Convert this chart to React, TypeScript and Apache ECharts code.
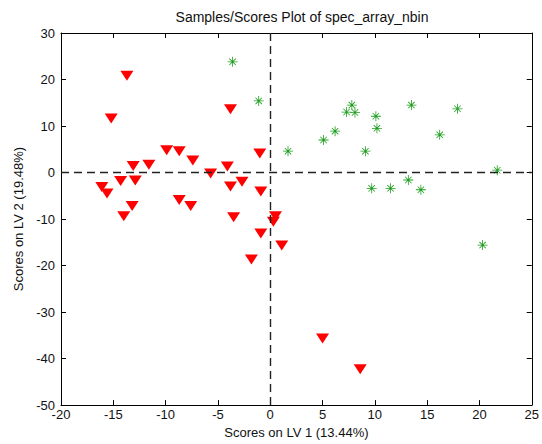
import React, { useEffect, useRef } from "react";
import * as echarts from "echarts";

const xTicks = [-20, 25];
const yTicks = [-50, 30];

// Red triangles (class 1): [LV1, LV2]
const redX = [-13.7, -15.2, -3.8, -9.9, -8.7, -7.4, -13.1, -11.6, -5.7, -4.1, -1.0, -16.1, -15.6, -14.3, -12.9, -3.8, -2.7, -0.9, -8.7, -7.6, -13.2, -14.0, -3.5, 0.5, 0.3, -0.9, 1.1, -1.8, 5.0, 8.6];
const redY = [20.8, 11.6, 13.6, 4.8, 4.6, 2.6, 1.4, 1.7, -0.2, 1.3, 4.1, -3.1, -4.5, -1.8, -1.7, -3.0, -2.0, -4.1, -5.9, -7.2, -7.2, -9.4, -9.6, -9.4, -10.6, -13.1, -15.7, -18.7, -35.7, -42.3];

// Green stars (class 2)
const greenX = [-3.6, -1.1, 1.7, 5.1, 6.2, 7.3, 7.8, 8.1, 10.1, 10.2, 9.1, 13.5, 16.2, 17.9, 21.7, 9.7, 11.5, 13.2, 14.4, 20.3];
const greenY = [23.8, 15.4, 4.6, 7.0, 8.9, 13.0, 14.5, 12.9, 12.1, 9.5, 4.6, 14.5, 8.1, 13.7, 0.5, -3.4, -3.4, -1.6, -3.7, -15.6];

const titleText = "Samples/Scores Plot of spec_array_nbin";
const xName = "Scores on LV 1 (13.44%)";
const yName = "Scores on LV 2 (19.48%)";

const starPath =
  "path://M9.2,0L10.8,0L10.8,20L9.2,20ZM0,9.2L20,9.2L20,10.8L0,10.8ZM3,4.1L4.1,3L17,15.9L15.9,17ZM15.9,3L17,4.1L4.1,17L3,15.9Z";

export default function App() {
  const ref = useRef<HTMLDivElement>(null);
  useEffect(() => {
    if (!ref.current) return;
    const chart = echarts.init(ref.current, null, { renderer: "svg" });
    const font = "Liberation Sans, Arial, sans-serif";
    const axisCommon = {
      type: "value" as const,
      axisLine: { show: true, onZero: false, lineStyle: { color: "#000", width: 1 } },
      axisTick: { show: true, inside: true, length: 5, lineStyle: { color: "#000" } },
      splitLine: { show: false },
    };
    chart.setOption({
      animation: false,
      backgroundColor: "#fff",
      title: {
        text: titleText,
        left: 297,
        textAlign: "center",
        top: 5,
        textStyle: { fontFamily: font, fontSize: 14, fontWeight: "normal", color: "#111" },
      },
      grid: { left: 61, top: 33, right: 9, bottom: 37 },
      xAxis: [
        {
          ...axisCommon,
          min: xTicks[0],
          max: xTicks[1],
          interval: 5,
          position: "bottom",
          name: xName,
          nameLocation: "middle",
          nameGap: 18,
          nameTextStyle: { fontFamily: font, fontSize: 13, color: "#111" },
          axisLabel: { fontFamily: font, fontSize: 13, color: "#111", margin: 3 },
        },
        {
          ...axisCommon,
          min: xTicks[0],
          max: xTicks[1],
          interval: 5,
          position: "top",
          axisLabel: { show: false },
        },
      ],
      yAxis: [
        {
          ...axisCommon,
          min: yTicks[0],
          max: yTicks[1],
          interval: 10,
          position: "left",
          name: yName,
          nameLocation: "middle",
          nameGap: 33,
          nameTextStyle: { fontFamily: font, fontSize: 13, color: "#111" },
          axisLabel: { fontFamily: font, fontSize: 13, color: "#111", margin: 6 },
        },
        {
          ...axisCommon,
          min: yTicks[0],
          max: yTicks[1],
          interval: 10,
          position: "right",
          axisLabel: { show: false },
        },
      ],
      series: [
        {
          type: "line",
          data: [],
          silent: true,
          markLine: {
            symbol: "none",
            silent: true,
            label: { show: false },
            lineStyle: { color: "#222", type: [8, 5], width: 1.4 },
            data: [{ xAxis: 0 }, { yAxis: 0 }],
          },
        },
        {
          type: "scatter",
          data: redX.map((x, i) => [x, redY[i]]),
          symbol: "triangle",
          symbolRotate: 180,
          symbolSize: [13, 10],
          itemStyle: { color: "#ff0000", opacity: 1 },
        },
        {
          type: "scatter",
          data: greenX.map((x, i) => [x, greenY[i]]),
          symbol: starPath,
          symbolSize: 10,
          itemStyle: { color: "#1e9e1e", opacity: 1 },
        },
      ],
    });
    return () => chart.dispose();
  }, []);
  return <div ref={ref} style={{ width: 542, height: 444, position: "absolute", left: 0, top: 0 }} />;
}
